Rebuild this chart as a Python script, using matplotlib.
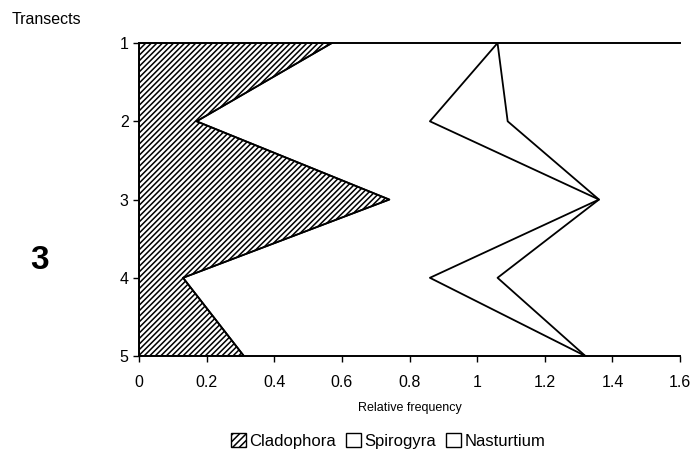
import numpy as np
import matplotlib
matplotlib.use("Agg")
import matplotlib.pyplot as plt
from matplotlib.patches import Patch

plt.rcParams['font.family'] = ['Liberation Sans', 'DejaVu Sans']
plt.rcParams['hatch.linewidth'] = 1.1

transects = [1, 2, 3, 4, 5]
cladophora = [0.57, 0.17, 0.74, 0.13, 0.31]
spirogyra = [0.49, 0.69, 0.62, 0.73, 1.01]
nasturtium = [0.00, 0.23, 0.00, 0.20, 0.00]
x_ticks = [0, 0.2, 0.4, 0.6, 0.8, 1, 1.2, 1.4, 1.6]
x_ticklabels = ['0', '0.2', '0.4', '0.6', '0.8', '1', '1.2', '1.4', '1.6']

c1 = np.array(cladophora)
c2 = c1 + np.array(spirogyra)
c3 = c2 + np.array(nasturtium)

fig = plt.figure(figsize=(6.99, 4.63), dpi=100)
ax = fig.add_axes([0.199, 0.231, 0.774, 0.676])

ax.fill_betweenx(transects, 0, c1, facecolor='white', edgecolor='black',
                 hatch='//////', linewidth=1.2)
ax.plot(c2, transects, color='black', lw=1.3)
ax.plot(c3, transects, color='black', lw=1.3)
ax.plot(c1, transects, color='black', lw=1.3)

ax.set_xlim(0, 1.6)
ax.set_ylim(5, 1)
ax.set_xticks(x_ticks)
ax.set_xticklabels(x_ticklabels, fontsize=11.5)
ax.set_yticks(transects)
ax.set_yticklabels([str(t) for t in transects], fontsize=11.5)
ax.spines['right'].set_visible(False)
for s in ['top', 'bottom', 'left']:
    ax.spines[s].set_linewidth(1.4)
ax.tick_params(direction='out', length=4, width=1)
ax.tick_params(axis='x', pad=10)
ax.set_xlabel('Relative frequency', fontsize=9, labelpad=8)

fig.text(0.017, 0.957, 'Transects', fontsize=11.5, ha='left', va='center')
fig.text(0.056, 0.438, '3', fontsize=24, fontweight='bold', ha='center', va='center')

handles = [Patch(facecolor='white', edgecolor='black', hatch='/////', label='Cladophora'),
           Patch(facecolor='white', edgecolor='black', label='Spirogyra'),
           Patch(facecolor='white', edgecolor='black', label='Nasturtium')]
fig.legend(handles=handles, loc='center', bbox_to_anchor=(0.555, 0.048), ncol=3,
           frameon=False, fontsize=12, handlelength=0.9, handleheight=0.9,
           handletextpad=0.2, columnspacing=0.6)

fig.savefig('out.png', dpi=100)
